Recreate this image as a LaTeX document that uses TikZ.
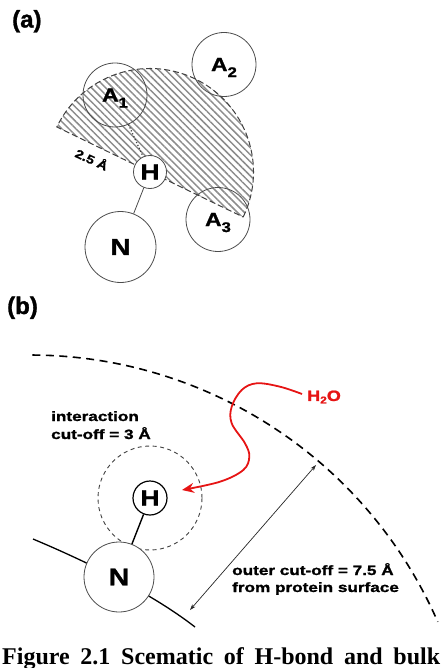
\documentclass[tikz,border=0pt]{standalone}
\usepackage{fontspec}
\usepackage{graphicx}
\usetikzlibrary{arrows.meta,patterns.meta}
\newfontfamily\arialf[BoldFeatures={FakeBold=1.2}]{Liberation Sans}
\newfontfamily\timesf{Liberation Serif}
\newcommand{\sx}[1]{\scalebox{1.2}[1]{#1}}
\newcommand{\sxs}[1]{\scalebox{1.27}[1]{#1}}
\definecolor{h2ored}{RGB}{230,20,20}
\begin{document}
\begin{tikzpicture}[x=1pt,y=1pt,
  atom/.style={circle, draw=black!70, line width=0.8pt, inner sep=0pt, font=\arialf\bfseries},
  panellabel/.style={anchor=base west, inner sep=0pt, font=\arialf\bfseries\fontsize{24}{24}\selectfont},
  smalltext/.style={anchor=base west, inner sep=0pt, font=\arialf\bfseries\fontsize{13.5}{13.5}\selectfont},
  hatchregion/.style={pattern={Lines[angle=-45,distance=5pt,line width=1.5pt]}, pattern color=black!45,
     draw=black!75, line width=1pt, dash pattern=on 6pt off 3pt},
  bigdash/.style={draw=black, line width=1.6pt, dash pattern=on 8pt off 5.5pt},
  smalldash/.style={draw=black!75, line width=0.9pt, dash pattern=on 4pt off 3.5pt},
  dbl/.style={{Stealth[length=6pt,width=4pt]}-{Stealth[length=6pt,width=4pt]}, line width=0.7pt, draw=black!85},
  redarrow/.style={-{Stealth[length=12pt,width=10pt]}, draw=h2ored, line width=1.8pt}
]
\useasboundingbox (0,0) rectangle (440,-668);

% ---------------- (a) ----------------
\node[panellabel] (la) at (12,-27.5) {(a)};

\path[hatchregion] (150,-172) ++(-25.8:103.5) arc[start angle=-25.8,end angle=154.2,radius=103.5] -- cycle;

\node[atom, minimum size=64pt, font=\arialf\bfseries\fontsize{19}{19}\selectfont] (A1) at (115,-95)
  {\sx{A\smash{\raisebox{-6pt}{\fontsize{14}{14}\selectfont 1}}}};
\node[atom, minimum size=64pt, font=\arialf\bfseries\fontsize{19}{19}\selectfont] (A2) at (224,-64.5)
  {\sx{A\smash{\raisebox{-6pt}{\fontsize{14}{14}\selectfont 2}}}};
\node[atom, minimum size=64pt, font=\arialf\bfseries\fontsize{19}{19}\selectfont] (A3) at (218,-219.5)
  {\sx{A\smash{\raisebox{-6pt}{\fontsize{14}{14}\selectfont 3}}}};
\node[atom, minimum size=33pt, fill=white, font=\arialf\bfseries\fontsize{22}{22}\selectfont] (Ha) at (150,-172) {\sx{H}};
\node[atom, minimum size=71pt, fill=white, font=\arialf\bfseries\fontsize{23}{23}\selectfont] (Na) at (120.5,-247) {\sx{N}};

\draw[black!75, line width=1.2pt, dotted] (A1) -- (Ha);
\draw[black!70, line width=0.8pt] (Ha) -- (Na);

\node[rotate=-25, inner sep=0pt, font=\arialf\bfseries\fontsize{12}{12}\selectfont] (d25) at (92,-159) {\sx{2.5 Å}};

% ---------------- (b) ----------------
\node[panellabel] (lb) at (7,-314) {(b)};

\draw[bigdash] (30,-800) ++(89.7:445) arc[start angle=89.7,end angle=23.6,radius=445];

\draw[black, line width=1.3pt] (33,-539) .. controls (83,-560) and (150,-592) .. (195,-627);

\draw[smalldash] (150,-498) circle[radius=52];

\node[atom, minimum size=34pt, fill=white, draw=black, line width=1.2pt, font=\arialf\bfseries\fontsize{22}{22}\selectfont] (Hb) at (150,-498) {\sx{H}};
\node[atom, minimum size=70pt, fill=white, font=\arialf\bfseries\fontsize{24}{24}\selectfont] (Nb) at (119,-577) {\sx{N}};
\draw[black, line width=1.4pt] (Hb) -- (Nb);

\node[smalltext] (int1) at (51,-421) {\sxs{interaction}};
\node[smalltext] (int2) at (51,-439) {\sxs{cut-off = 3 Å}};
\node[smalltext] (out1) at (232,-575) {\sxs{outer cut-off = 7.5 Å}};
\node[smalltext] (out2) at (232,-592) {\sxs{from protein surface}};

\coordinate (o1) at (190,-610);
\coordinate (o2) at (316,-465);
\draw[dbl] (o1) -- (o2);

\node[anchor=west, inner sep=0pt, text=h2ored, font=\arialf\bfseries\fontsize{15}{15}\selectfont] (h2o) at (307,-397)
  {\sx{H\raisebox{-2.5pt}{\fontsize{10}{10}\selectfont 2}O}};
\coordinate (tipR) at (182,-490);
\draw[redarrow] plot[smooth, tension=0.6] coordinates {([shift={(-5pt,3pt)}]h2o.west) (280,-386.7) (256.7,-383.3) (241.7,-390) (231.7,-406.7) (231.7,-423.3) (245,-443.3) (249.3,-456.7) (243.3,-470) (220,-481.7) (tipR)};

% ---------------- caption ----------------
\node[anchor=base west, inner sep=0pt, font=\timesf\bfseries\fontsize{24}{24}\selectfont] (cap) at (2,-664)
  {\makebox[438pt][s]{Figure 2.1 Scematic of H-bond and bulk}};
\end{tikzpicture}
\end{document}
